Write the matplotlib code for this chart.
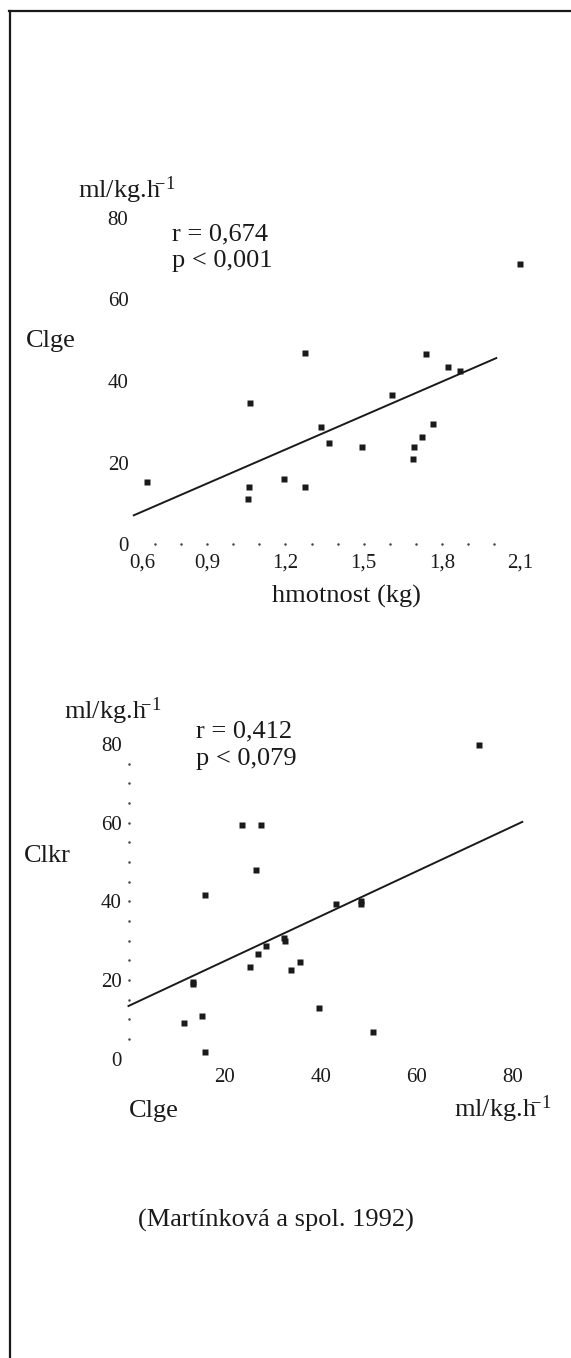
import numpy as np
import matplotlib.pyplot as plt
from matplotlib.lines import Line2D

plt.rcParams['font.family'] = ['Liberation Serif', 'DejaVu Serif']
plt.rcParams['mathtext.fontset'] = 'custom'
plt.rcParams['mathtext.rm'] = 'Liberation Serif'
plt.rcParams['mathtext.default'] = 'regular'

W, H = 571, 1358
INK = '#1a1a1a'

# horni graf: Clge podle hmotnosti
hmotnost = [0.67, 1.064, 1.06, 1.057, 1.196, 1.276, 1.336, 1.368, 1.493, 1.608,
            1.69, 1.695, 1.723, 1.767, 1.274, 1.74, 1.825, 1.869, 2.10]
clge_h = [15.2, 34.5, 14.1, 11.0, 15.9, 14.0, 28.7, 24.8, 23.9, 36.5,
          21.0, 23.9, 26.2, 29.4, 46.9, 46.5, 43.3, 42.4, 68.6]
fit1_x = [0.618, 2.009]
fit1_y = [7.1, 45.6]
x1_ticks = [0.6, 0.9, 1.2, 1.5, 1.8, 2.1]
x1_labels = ['0,6', '0,9', '1,2', '1,5', '1,8', '2,1']
x1_dots = [0.7, 0.8, 0.9, 1.0, 1.1, 1.2, 1.3, 1.4, 1.5, 1.6, 1.7, 1.8, 1.9, 2.0]
y_ticks = [0, 20, 40, 60, 80]

# dolni graf: Clkr podle Clge
clge_k = [73.0, 23.7, 27.5, 26.5, 16.0, 43.3, 48.4, 48.5, 32.3, 32.5, 28.7,
          26.9, 25.2, 35.7, 33.8, 13.4, 13.5, 39.7, 15.4, 11.6, 51.0, 16.0]
clkr = [79.7, 59.5, 59.5, 47.9, 41.5, 39.2, 40.1, 39.3, 30.8, 30.0, 28.6,
        26.6, 23.2, 24.5, 22.5, 19.6, 19.0, 12.8, 10.9, 9.0, 6.9, 1.8]
fit2_x = [0, 82]
fit2_y = [13.4, 60.2]
x2_ticks = [20, 40, 60, 80]
y2_dots = [5, 10, 15, 20, 25, 30, 35, 40, 45, 50, 55, 60, 65, 70, 75]

UNIT = r'ml/kg.h$^{\!\!\!-\!1}$'

fig = plt.figure(figsize=(W / 100, H / 100), dpi=100)


def px_axes(left, right, bottom, top):
    return fig.add_axes([left / W, 1 - bottom / H, (right - left) / W, (bottom - top) / H])


def ptext(x, y, s, size=19, **kw):
    kw.setdefault('va', 'baseline')
    kw.setdefault('ha', 'left')
    fig.text(x / W, 1 - y / H, s, fontsize=size, color=INK, **kw)


def clean(ax):
    for s in ax.spines.values():
        s.set_visible(False)
    ax.set_facecolor('none')


# ramecek (jen horni a leva cara)
fig.add_artist(Line2D([9 / W, 1], [1 - 11 / H] * 2, color=INK, lw=1.6))
fig.add_artist(Line2D([10 / W] * 2, [0, 1 - 11 / H], color=INK, lw=1.6))

# ---- horni graf
ax1 = px_axes(129.1, 520, 544.3, 217.6)
clean(ax1)
ax1.set_xlim(0.6, 2.1)
ax1.set_ylim(0, 80)
ax1.plot(fit1_x, fit1_y, color=INK, lw=1.4, clip_on=False)
ax1.plot(hmotnost, clge_h, 's', ms=4, color=INK, mec='none', clip_on=False)
ax1.plot(x1_dots, np.zeros(len(x1_dots)), 'o', ms=1.8, color='#444', mec='none', clip_on=False)
ax1.set_xticks(x1_ticks)
ax1.set_xticklabels(x1_labels)
ax1.set_yticks(y_ticks)
ax1.tick_params(axis='x', length=0, labelsize=15, pad=7, colors=INK)
ax1.tick_params(axis='y', length=0, labelsize=15, pad=0.5, colors=INK)
ax1.get_xticklabels()[0].set_ha('left')

ptext(77.5, 198, UNIT)
ptext(172, 240.5, 'r = 0,674')
ptext(172, 267.5, 'p < 0,001')
ptext(25.5, 347, 'Clge')
ptext(346, 603, 'hmotnost (kg)', ha='center')

# ---- dolni graf
ax2 = px_axes(128.5, 512.7, 1058.7, 744)
clean(ax2)
ax2.set_xlim(0, 80)
ax2.set_ylim(0, 80)
ax2.plot(fit2_x, fit2_y, color=INK, lw=1.4, clip_on=False)
ax2.plot(clge_k, clkr, 's', ms=4, color=INK, mec='none', clip_on=False)
ax2.plot(np.zeros(len(y2_dots)), y2_dots, 'o', ms=1.8, color='#444', mec='none', clip_on=False)
ax2.set_xticks(x2_ticks)
ax2.set_yticks(y_ticks)
ax2.tick_params(axis='x', length=0, labelsize=15, pad=6.5, colors=INK)
ax2.tick_params(axis='y', length=0, labelsize=15, pad=5, colors=INK)

ptext(63.6, 718.5, UNIT)
ptext(196, 737, 'r = 0,412')
ptext(196, 765, 'p < 0,079')
ptext(23.6, 861.5, 'Clkr')
ptext(129, 1117, 'Clge')
ptext(454.5, 1117, UNIT)

ptext(275.5, 1227, '(Martínková a spol. 1992)', ha='center')

fig.savefig('out.png', dpi=100)
